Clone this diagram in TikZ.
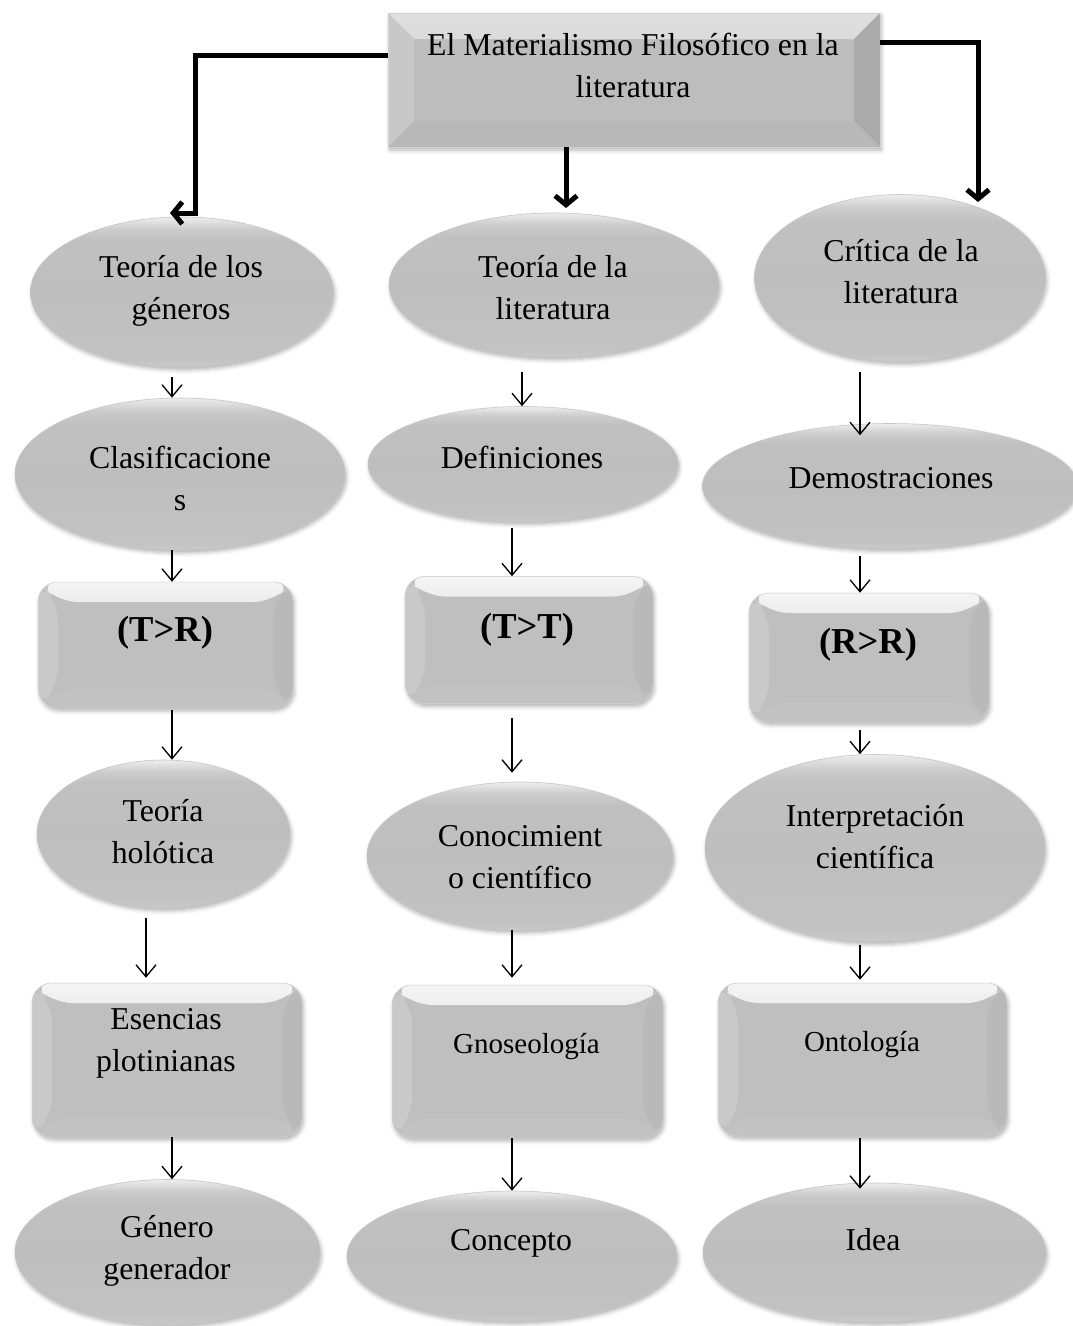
\documentclass[tikz,border=0pt]{standalone}
\usepackage{fontspec}
\setmainfont{Liberation Serif}
\usetikzlibrary{shapes.geometric,arrows.meta,shadows.blur}
\pgfdeclareverticalshading{ellglossy}{100bp}{color(0bp)=(gray!44); color(25bp)=(gray!42); color(28bp)=(gray!48); color(50bp)=(gray!51); color(67bp)=(gray!49); color(71bp)=(gray!40); color(75bp)=(gray!14); color(100bp)=(gray!14)}
\begin{document}
\begin{tikzpicture}[x=1pt,y=-1pt,
  bevelpic/.style n args={6}{path picture={
    \fill[top color=gray!#6, bottom color=gray!#2] (path picture bounding box.north west) -- (path picture bounding box.north east) -- ([xshift=-#1,yshift=-#1]path picture bounding box.north east) -- ([xshift=#1,yshift=-#1]path picture bounding box.north west) -- cycle;
    \fill[gray!#3] (path picture bounding box.north west) -- ([xshift=#1,yshift=-#1]path picture bounding box.north west) -- ([xshift=#1,yshift=#1]path picture bounding box.south west) -- (path picture bounding box.south west) -- cycle;
    \fill[gray!#4] (path picture bounding box.north east) -- ([xshift=-#1,yshift=-#1]path picture bounding box.north east) -- ([xshift=-#1,yshift=#1]path picture bounding box.south east) -- (path picture bounding box.south east) -- cycle;
    \fill[gray!#5] (path picture bounding box.south west) -- ([xshift=#1,yshift=#1]path picture bounding box.south west) -- ([xshift=-#1,yshift=#1]path picture bounding box.south east) -- (path picture bounding box.south east) -- cycle;
  }},
  softshadow/.style={blur shadow={shadow xshift=1.5pt, shadow yshift=-3pt, shadow blur radius=4pt, shadow opacity=30}},
  ell/.style={ellipse, inner sep=0pt, draw=gray!45, line width=0.6pt, shade, shading=ellglossy, softshadow},
  rbox/.style={rectangle, rounded corners=20pt, inner sep=0pt, fill=gray!50, draw=gray!35, line width=0.5pt, softshadow, bevelpic={20pt}{49}{42}{55}{48}{8}},
  mainbox/.style={rectangle, inner sep=0pt, fill=gray!52, draw=gray!35, line width=0.5pt, softshadow, bevelpic={26pt}{44}{43}{66}{56}{25}},
  txt/.style={align=center, inner sep=0pt, font=\fontsize{31.8}{42}\selectfont},
  btxt/.style={inner sep=0pt, font=\bfseries\fontsize{36.5}{44}\selectfont},
  stxt/.style={inner sep=0pt, font=\fontsize{29}{36}\selectfont},
  thinarr/.style={draw=black, line width=1.3pt, -{Straight Barb[length=12pt,width=20pt]}},
  thickarr/.style={draw=black, line width=5pt, -{Straight Barb[length=9pt,width=22pt]}}
]
\useasboundingbox (0,0) rectangle (1073,1326);

% top box
\node[mainbox, minimum width=492pt, minimum height=134pt] (T) at (634,80) {};
\node[txt] (tT) at (633,65) {El Materialismo Filosófico en la\\literatura};

% column 1
\node[ell, minimum width=303pt, minimum height=150pt] (A1) at (182,292) {};
\node[txt] (tA1) at (181,291) {Teoría de los\\géneros};
\node[ell, minimum width=330pt, minimum height=152pt] (A2) at (180,474) {};
\node[txt] (tA2) at (180,478) {Clasificacione\\s};
\node[rbox, minimum width=255pt, minimum height=126pt] (A3) at (165.5,645) {};
\node[btxt] (tA3) at (165,633) {(T>R)};
\node[ell, minimum width=253pt, minimum height=148pt] (A4) at (163.5,834) {};
\node[txt] (tA4) at (163,832) {Teoría\\holótica};
\node[rbox, minimum width=270pt, minimum height=154pt] (A5) at (167,1060) {};
\node[txt] (tA5) at (166,1043) {Esencias\\plotinianas};
\node[ell, minimum width=305pt, minimum height=145pt] (A6) at (167.5,1252) {};
\node[txt] (tA6) at (167,1251) {Género\\generador};

% column 2
\node[ell, minimum width=330pt, minimum height=144pt] (B1) at (554,285) {};
\node[txt] (tB1) at (553,288) {Teoría de la\\literatura};
\node[ell, minimum width=310pt, minimum height=115pt] (B2) at (523,464) {};
\node[txt] (tB2) at (522,457) {Definiciones};
\node[rbox, minimum width=248pt, minimum height=127pt] (B3) at (529,640) {};
\node[btxt] (tB3) at (527,630) {(T>T)};
\node[ell, minimum width=306pt, minimum height=148pt] (B4) at (520,856) {};
\node[txt] (tB4) at (520,857) {Conocimient\\o científico};
\node[rbox, minimum width=271pt, minimum height=153pt] (B5) at (527.5,1061.5) {};
\node[stxt] (tB5) at (526.5,1047) {Gnoseología};
\node[ell, minimum width=330pt, minimum height=130pt] (B6) at (512,1256) {};
\node[txt] (tB6) at (511,1243) {Concepto};

% column 3
\node[ell, minimum width=291pt, minimum height=167pt] (C1) at (900,278) {};
\node[txt] (tC1) at (901,272) {Crítica de la\\literatura};
\node[ell, minimum width=375pt, minimum height=125pt] (C2) at (890,486) {};
\node[txt] (tC2) at (891,478) {Demostraciones};
\node[rbox, minimum width=240pt, minimum height=129pt] (C3) at (869,657.5) {};
\node[btxt] (tC3) at (868,645) {(R>R)};
\node[ell, minimum width=340pt, minimum height=187pt] (C4) at (875,848) {};
\node[txt] (tC4) at (875,837) {Interpretación\\científica};
\node[rbox, minimum width=289pt, minimum height=153pt] (C5) at (862.5,1059.5) {};
\node[stxt] (tC5) at (862,1045) {Ontología};
\node[ell, minimum width=343pt, minimum height=139pt] (C6) at (874.5,1252.5) {};
\node[txt] (tC6) at (873,1240) {Idea};

% thick connectors from the top box
\coordinate (lc) at (195,213);
\coordinate (le) at (170,213);
\coordinate (me) at (566,208);
\coordinate (re) at (978,202);
\draw[thickarr] ([yshift=25pt]T.west) -| (lc) -- (le);
\draw[thickarr] (T.south -| me) -- (me);
\draw[thickarr] ([yshift=38pt]T.east) -| (re);

% thin connectors
\coordinate (xa) at (172,0);
\coordinate (xa4) at (146,0);
\coordinate (xb1) at (522,0);
\coordinate (xb) at (512,0);
\coordinate (xc) at (860,0);
\draw[thinarr, shorten <=10pt] (A1.south -| xa) -- (A2.north -| xa);
\draw[thinarr] (A2.south -| xa) -- (A3.north -| xa);
\draw[thinarr, shorten <=2pt] (A3.south -| xa) -- (A4.north -| xa);
\draw[thinarr, shorten <=10pt, shorten >=5pt] (A4.south -| xa4) -- (A5.north -| xa4);
\draw[thinarr] (A5.south -| xa) -- (A6.north -| xa);
\draw[thinarr, shorten <=15pt] (B1.south -| xb1) -- (B2.north -| xb1);
\draw[thinarr, shorten <=6pt] (B2.south -| xb) -- (B3.north -| xb);
\draw[thinarr, shorten <=14pt, shorten >=9pt] (B3.south -| xb) -- (B4.north -| xb);
\draw[thinarr, shorten >=7pt] (B4.south -| xb) -- (B5.north -| xb);
\draw[thinarr] (B5.south -| xb) -- (B6.north -| xb);
\draw[thinarr, shorten <=10pt, shorten >=-12pt] (C1.south -| xc) -- (C2.north -| xc);
\draw[thinarr, shorten <=7pt] (C2.south -| xc) -- (C3.north -| xc);
\draw[thinarr, shorten <=8pt] (C3.south -| xc) -- (C4.north -| xc);
\draw[thinarr, shorten <=3pt, shorten >=3pt] (C4.south -| xc) -- (C5.north -| xc);
\draw[thinarr, shorten <=2pt, shorten >=-6pt] (C5.south -| xc) -- (C6.north -| xc);
\end{tikzpicture}
\end{document}
